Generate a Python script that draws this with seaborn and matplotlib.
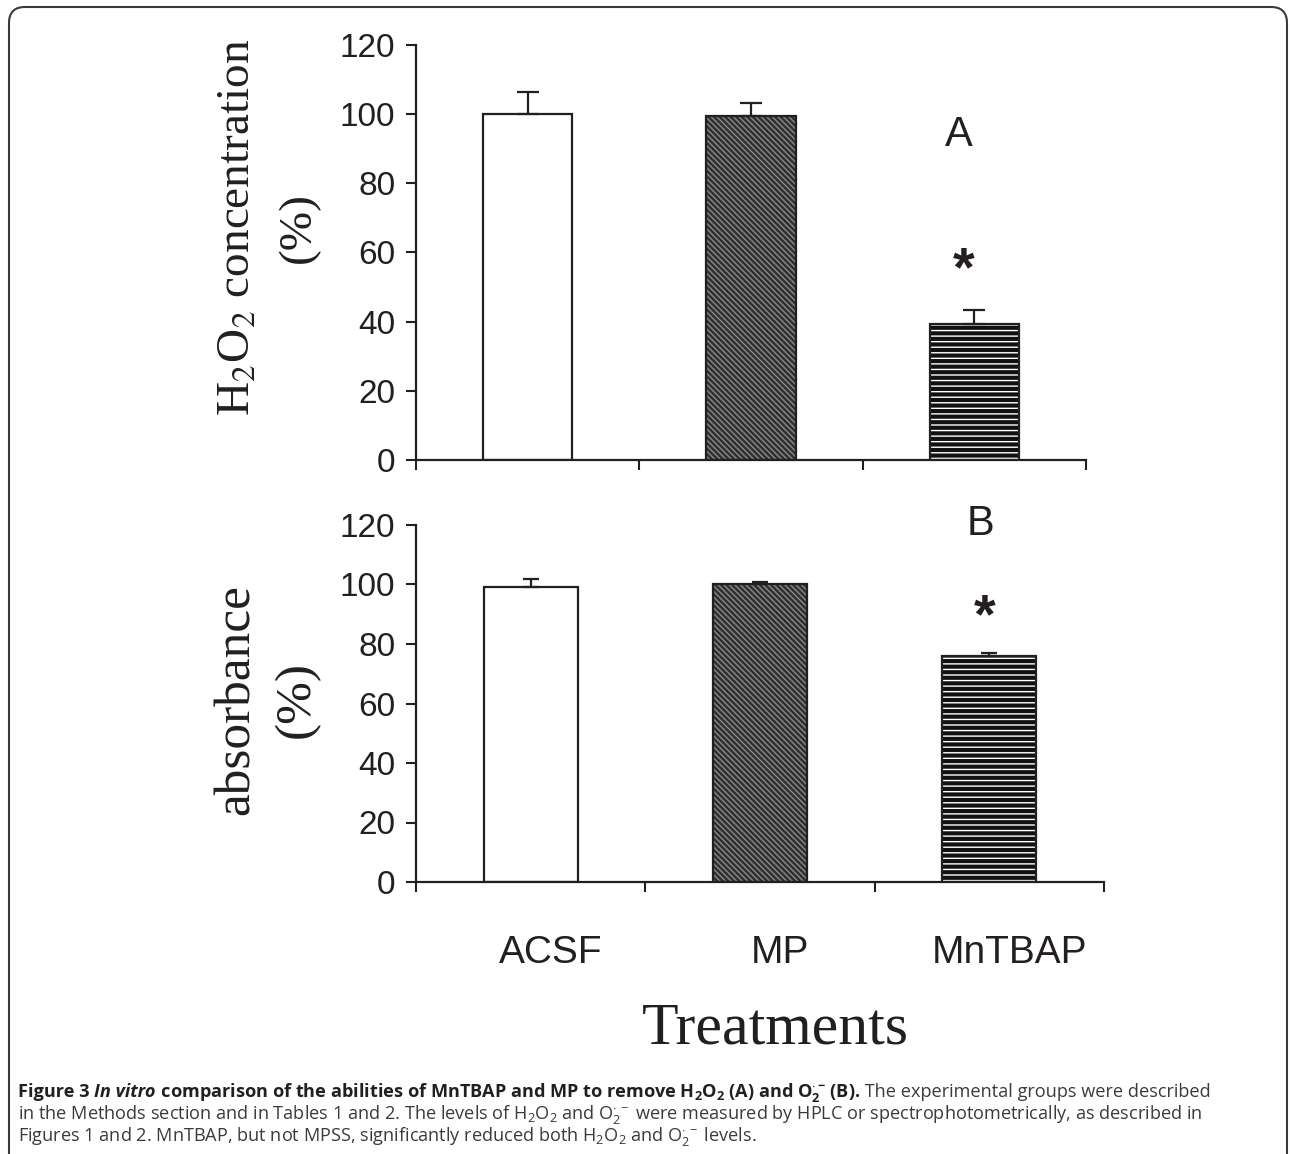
import numpy as np
import pandas as pd
import matplotlib
matplotlib.use("Agg")
import matplotlib.pyplot as plt
import seaborn as sns
from matplotlib.patches import Rectangle, FancyBboxPatch
from matplotlib.transforms import IdentityTransform, ScaledTranslation

# ---------------- data ----------------
categories = ["ACSF", "MP", "MnTBAP"]
h2o2_mean = [100.0, 99.4, 39.2]
h2o2_err = [6.5, 3.7, 4.3]
absorb_mean = [99.3, 100.2, 76.0]
absorb_err = [2.4, 0.7, 0.9]
yticks = [0, 20, 40, 60, 80, 100, 120]

sns.set_theme(style="white")
plt.rcParams["font.family"] = ["Liberation Sans", "DejaVu Sans"]
plt.rcParams["mathtext.fontset"] = "custom"
plt.rcParams["mathtext.rm"] = "Open Sans"
plt.rcParams["mathtext.it"] = "Open Sans:italic"
plt.rcParams["mathtext.bf"] = "Open Sans:bold"
plt.rcParams["hatch.linewidth"] = 1.0

W, H = 1290, 1154
fig = plt.figure(figsize=(W / 100, H / 100), dpi=100)
INK = "#231f20"


def ax_px(l, r, t, b):
    return fig.add_axes([l / W, 1 - b / H, (r - l) / W, (b - t) / H])


axA = ax_px(416, 1086, 45, 460)
axB = ax_px(416, 1104, 525, 882)

styles = [
    dict(face="white", hatch=None, hc="black"),
    dict(face="#303030", hatch="\\\\\\\\\\\\", hc="#8a8a8a"),
    dict(face="#111111", hatch="---", hc="white"),
]


def draw_panel(ax, means, errs, width, capsize):
    df = pd.DataFrame({"Treatment": categories, "value": means})
    sns.barplot(data=df, x="Treatment", y="value", order=categories,
                width=width, errorbar=None, color="white", ax=ax)
    for p, st in zip(ax.patches, styles):
        p.set_facecolor(st["face"])
        if st["hatch"]:
            p.set_hatch(st["hatch"])
            p.set_edgecolor(st["hc"])
        p.set_linewidth(0)
        ax.add_patch(Rectangle((p.get_x(), p.get_y()), p.get_width(), p.get_height(),
                               fill=False, edgecolor=INK, linewidth=1.6, zorder=4))
    ax.errorbar(x=np.arange(len(categories)), y=means,
                yerr=[np.zeros(len(errs)), errs], fmt="none", ecolor=INK,
                elinewidth=1.6, capsize=capsize, capthick=1.6, zorder=3)
    ax.set_xlim(-0.5, len(categories) - 0.5)
    ax.set_ylim(0, 120)
    ax.set_yticks(yticks)
    ax.set_yticklabels([str(v) for v in yticks])
    ax.set_xticks(np.arange(len(categories) + 1) - 0.5)
    ax.set_xticklabels([])
    for s in ["top", "right"]:
        ax.spines[s].set_visible(False)
    for s in ["left", "bottom"]:
        ax.spines[s].set_linewidth(1.6)
        ax.spines[s].set_color(INK)
    ax.tick_params(axis="both", which="major", direction="out", length=7,
                   width=1.5, color=INK, left=True, bottom=True)
    ax.tick_params(axis="y", labelsize=24, labelcolor=INK, pad=8)
    ax.set_xlabel("")
    ax.set_facecolor("white")


draw_panel(axA, h2o2_mean, h2o2_err, 0.40, 8)
draw_panel(axB, absorb_mean, absorb_err, 0.41, 6)

# y labels (serif)
axA.set_ylabel("H$_2$O$_2$ concentration\n(%)", fontsize=34, family="Liberation Serif",
               math_fontfamily="stix", color=INK, linespacing=1.55)
axA.yaxis.set_label_coords((320 - 416) / 670, 0.56)
axB.set_ylabel("absorbance\n(%)", fontsize=37, family="Liberation Serif",
               color=INK, linespacing=1.4)
axB.yaxis.set_label_coords((320 - 416) / 688, 0.51)

# category labels on bottom panel
axB.set_xticks(np.arange(len(categories)), minor=True)
axB.set_xticklabels(categories, minor=True)
axB.tick_params(axis="x", which="minor", length=0, labelsize=28, labelcolor=INK, pad=38)
for lab in axB.get_xticklabels(minor=True):
    lab.set_transform(lab.get_transform() + ScaledTranslation(0.2, 0, fig.dpi_scale_trans))

axB.set_xlabel("Treatments", fontsize=43, family="Liberation Serif", color=INK)
axB.xaxis.set_label_coords((775 - 416) / 688, (882 - 1002) / 357)

# panel letters and significance marks
axA.text(1.93, 94.0, "A", fontsize=30, color=INK, ha="center", va="center")
axA.text(1.95, 54.5, "*", fontsize=40, weight="bold", color=INK, ha="center", va="center")
axB.text(1.96, 120.5, "B", fontsize=30, color=INK, ha="center", va="center", clip_on=False)
axB.text(1.98, 88.5, "*", fontsize=40, weight="bold", color=INK, ha="center", va="center")

# border frame
frame = FancyBboxPatch((9, -40), 1278, H - 7 + 40,
                       boxstyle="round,pad=0,rounding_size=16",
                       transform=IdentityTransform(), fill=False,
                       edgecolor="#3a3a3a", linewidth=1.5)
fig.add_artist(frame)

# caption
renderer = fig.canvas.get_renderer()
CAP = "#3a3a3a"


def draw_line(x0, y_base, segments, size=13.1):
    x = x0
    for txt, weight, style, color in segments:
        t = fig.text(x / W, 1 - y_base / H, txt, fontsize=size, family="Open Sans",
                     weight=weight, style=style, color=color, va="baseline", ha="left")
        bb = t.get_window_extent(renderer)
        x += bb.width


h2o2_b = r"H$_\mathbf{2}$O$_\mathbf{2}$"
o2_b = r"O$_\mathbf{2}^{\mathbf{\cdot}\,\mathbf{-}}$"
h2o2 = r"H$_2$O$_2$"
o2 = r"O$_2^{\cdot\,-}$"

draw_line(18, 1097, [
    ("Figure 3 ", "bold", "normal", INK),
    ("In vitro", "bold", "italic", INK),
    (" comparison of the abilities of MnTBAP and MP to remove " + h2o2_b + " (A) and " + o2_b + " (B).",
     "bold", "normal", INK),
    (" The experimental groups were described", "normal", "normal", CAP),
])
draw_line(18, 1119, [
    ("in the Methods section and in Tables 1 and 2. The levels of " + h2o2 + " and " + o2 +
     " were measured by HPLC or spectrophotometrically, as described in", "normal", "normal", CAP),
])
draw_line(18, 1141, [
    ("Figures 1 and 2. MnTBAP, but not MPSS, significantly reduced both " + h2o2 + " and " + o2 +
     " levels.", "normal", "normal", CAP),
])

fig.savefig("out.png", dpi=100, facecolor="white")
